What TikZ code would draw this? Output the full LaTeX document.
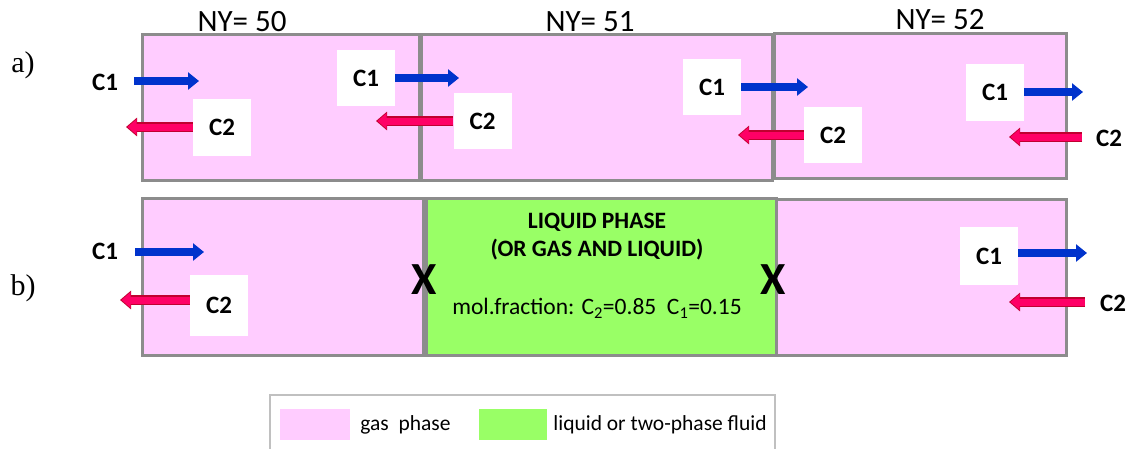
\documentclass[tikz,border=0pt]{standalone}
\usepackage{fontspec}
\setmainfont{Carlito}
\newfontfamily\timesfont{Liberation Serif}
\usetikzlibrary{arrows.meta,positioning}
\definecolor{gaspink}{HTML}{FFCCFF}
\definecolor{liqgreen}{HTML}{99FF66}
\definecolor{cellgrey}{HTML}{8C8C8C}
\definecolor{legendgrey}{HTML}{C0C0C0}
\definecolor{cblue}{HTML}{0033CC}
\definecolor{cred}{HTML}{FF0066}
\definecolor{credge}{HTML}{C00030}

\begin{document}
\begin{tikzpicture}[x=1pt, y=-1pt,
    gascell/.style={rectangle, draw=cellgrey, line width=3pt, fill=gaspink, inner sep=0pt},
    liqcell/.style={gascell, fill=liqgreen},
    wbox/.style={rectangle, fill=white, minimum width=58pt, minimum height=56pt,
        inner sep=0pt, font=\fontsize{25}{28}\selectfont\bfseries},
    clabel/.style={inner sep=0pt, font=\fontsize{25}{28}\selectfont\bfseries},
    nylabel/.style={inner sep=0pt, font=\fontsize{31}{34}\selectfont},
    rowlabel/.style={inner sep=0pt, font=\fontsize{30}{33}\selectfont\timesfont},
    liqtext/.style={inner sep=0pt, font=\fontsize{23.5}{26}\selectfont},
    xmark/.style={inner sep=0pt, font=\fontsize{46}{50}\selectfont\bfseries},
    c1arr/.style={draw=cblue, line width=8pt, -{Triangle[length=11pt, width=17pt]}},
    c2arr/.style={draw=cred, line width=7pt, shorten >=1.5pt,
        -{Triangle[length=9pt, width=15pt]},
        preaction={draw=credge, line width=9.5pt, shorten >=0pt,
            -{Triangle[length=11pt, width=18pt]}}},
    swatch/.style={rectangle, minimum width=70pt, minimum height=31pt, inner sep=0pt}
]
    \useasboundingbox (0,0) rectangle (1134,448);

    % row a
    \node[gascell, minimum width=277pt, minimum height=146pt] (a50) at (280.5,107) {};
    \node[gascell, minimum width=351pt, minimum height=146pt] (a51) at (596.5,107) {};
    \node[gascell, minimum width=292pt, minimum height=145pt] (a52) at (920,105.5) {};
    \node[nylabel] (ny50) at (242,22) {NY= 50};
    \node[nylabel] (ny51) at (590,22) {NY= 51};
    \node[nylabel] (ny52) at (940,20) {NY= 52};
    \node[rowlabel] (rowa) at (23,65) {a)};

    \node[clabel] (a1in) at (105,82) {C1};
    \coordinate (a1s) at (134,81);
    \coordinate (a1e) at (199,81);
    \draw[c1arr] (a1s) -- (a1e);

    \node[wbox, minimum height=57pt] (a2out) at (222,127) {C2};
    \coordinate (a2e) at (126,127);
    \draw[c2arr] (a2out.west) -- (a2e);

    \node[wbox] (a1mid) at (366,78) {C1};
    \coordinate (a1me) at (459,78);
    \draw[c1arr] (a1mid.east) -- (a1me);

    \node[wbox] (a2mid) at (482.5,121) {C2};
    \coordinate (a2me) at (376,121);
    \draw[c2arr] (a2mid.west) -- (a2me);

    \node[wbox] (a1right) at (712,87) {C1};
    \coordinate (a1re) at (808,87);
    \draw[c1arr] (a1right.east) -- (a1re);

    \node[wbox] (a2right) at (833,135) {C2};
    \coordinate (a2re) at (738,135);
    \draw[c2arr] (a2right.west) -- (a2re);

    \node[wbox, minimum height=57pt] (a1out) at (995,92) {C1};
    \coordinate (a1oe) at (1083,92);
    \draw[c1arr] (a1out.east) -- (a1oe);

    \node[clabel] (a2in) at (1109,138) {C2};
    \coordinate (a2is) at (1082,137);
    \coordinate (a2ie) at (1009,137);
    \draw[c2arr] (a2is) -- (a2ie);

    % row b
    \node[gascell, minimum width=281pt, minimum height=157pt] (b50) at (282.5,276.5) {};
    \node[gascell, minimum width=290pt, minimum height=156pt] (b52) at (921,277) {};
    \node[liqcell, minimum width=350pt, minimum height=157pt] (bliq) at (601,276.5) {};
    \node[rowlabel] (rowb) at (23,288) {b)};

    \node[liqtext, font=\fontsize{23.5}{26}\selectfont\bfseries] (liq1) at (597,222) {LIQUID PHASE};
    \node[liqtext, font=\fontsize{23.5}{26}\selectfont\bfseries] (liq2) at (597,250) {(OR GAS AND LIQUID)};
    \node[liqtext] (molfrac) at (597,308) {mol.fraction: C\textsubscript{2}=0.85~~C\textsubscript{1}=0.15};
    \node[xmark] (xleft) at (424,280) {X};
    \node[xmark] (xright) at (773,280) {X};

    \node[clabel] (b1in) at (105,251) {C1};
    \coordinate (b1s) at (135,252);
    \coordinate (b1e) at (204,252);
    \draw[c1arr] (b1s) -- (b1e);

    \node[wbox, minimum height=61pt] (b2out) at (219,305.5) {C2};
    \coordinate (b2e) at (120,300);
    \draw[c2arr] ([yshift=5.5pt]b2out.west) -- (b2e);

    \node[wbox, minimum height=58pt] (b1out) at (989,256) {C1};
    \coordinate (b1oe) at (1087,253);
    \draw[c1arr] ([yshift=3pt]b1out.east) -- (b1oe);

    \node[clabel] (b2in) at (1113,303) {C2};
    \coordinate (b2is) at (1085,302);
    \coordinate (b2ie) at (1009,302);
    \draw[c2arr] (b2is) -- (b2ie);

    % legend
    \draw[legendgrey, line width=2pt] (270,460) -- (270,395) -- (775,395) -- (775,460);
    \node[swatch, fill=gaspink] (gassw) at (315,424.5) {};
    \node[liqtext, font=\fontsize{21.5}{24}\selectfont, right=10pt of gassw] (gastxt) {gas~~phase};
    \node[swatch, fill=liqgreen, minimum width=68pt] (liqsw) at (513,424.5) {};
    \node[liqtext, font=\fontsize{21.5}{24}\selectfont, right=6pt of liqsw] (liqtxt) {liquid or two-phase fluid};
\end{tikzpicture}
\end{document}
